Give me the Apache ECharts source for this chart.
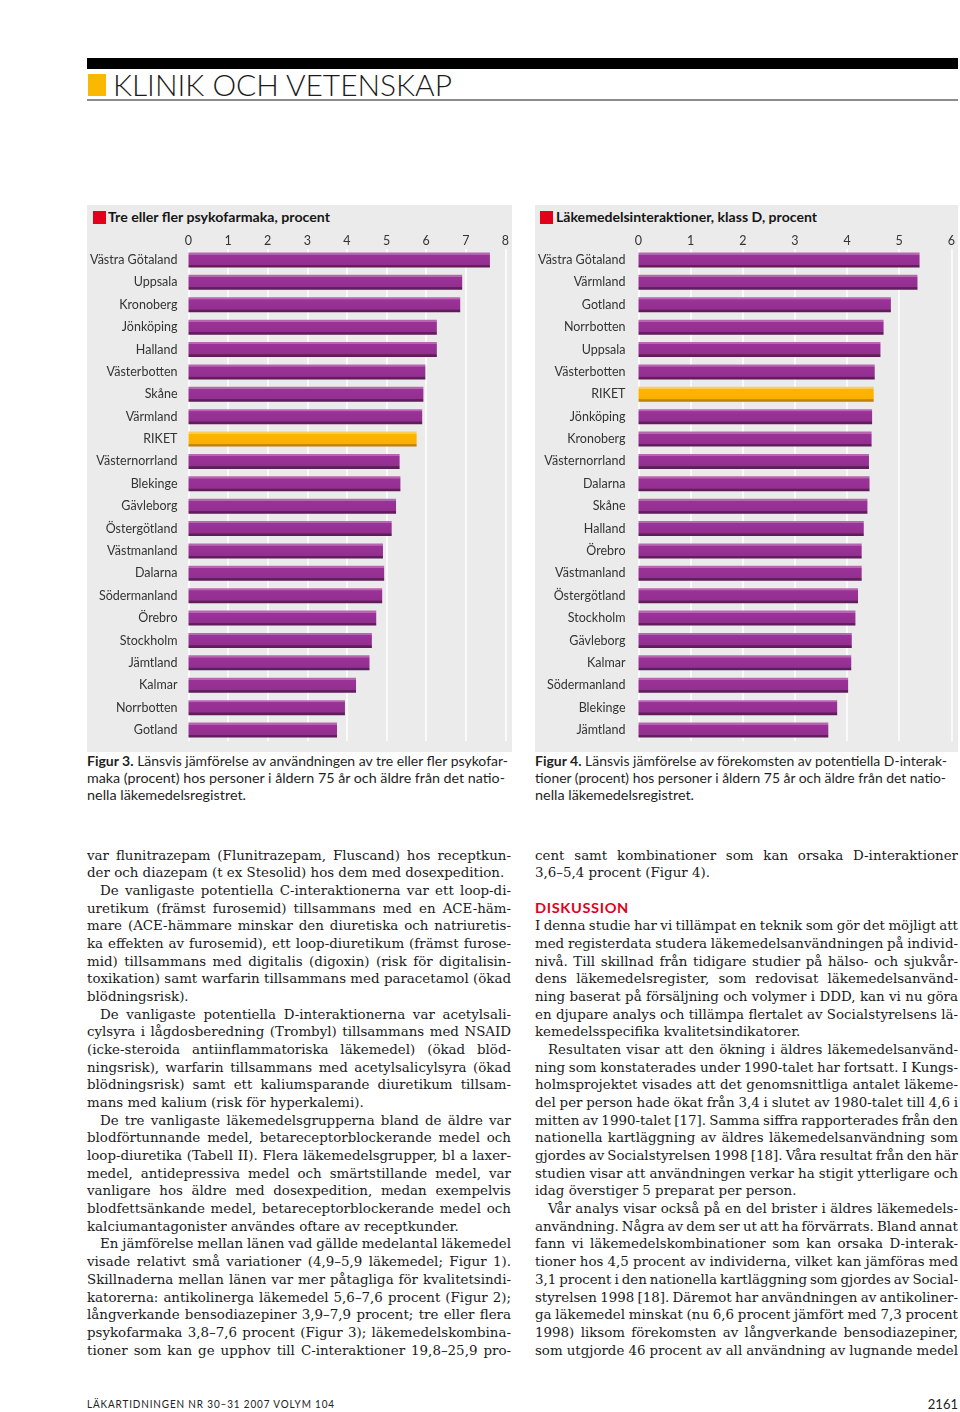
<!DOCTYPE html>
<html><head><meta charset="utf-8">
<script src="https://cdn.jsdelivr.net/npm/echarts@6/dist/echarts.min.js"></script>
<style>
html,body{margin:0;padding:0;background:#fff}
body{width:960px;height:1412px;position:relative;overflow:hidden;font-family:Lato,'Liberation Sans',sans-serif;color:#1a1a1a}
.a{position:absolute}
.panel{position:absolute;top:205px;height:547px;background:#ebebeb}
.sq{position:absolute;background:#e2001a}
.ttl{position:absolute;font:bold 14px/14px Lato,sans-serif;color:#151515;white-space:nowrap}
.cap{position:absolute;font:14px/16.8px Lato,sans-serif;color:#1f1f1f;white-space:nowrap}
.bl{position:absolute;font:13.4px/17.68px 'DejaVu Serif',serif;color:#1a1a1a;white-space:pre}
.fit{white-space:nowrap;transform-origin:0 0}
</style></head>
<body>
<!-- header -->
<div class="a" style="left:87px;top:58px;width:871px;height:11px;background:#000"></div>
<div class="a" style="left:88px;top:74px;width:18px;height:22px;background:#fbb800"></div>
<div class="a fit" data-w="339" style="left:113px;top:69px;font:300 30px/30px Lato,sans-serif;color:#1a1a1a">KLINIK OCH VETENSKAP</div>
<div class="a" style="left:87px;top:99px;width:871px;height:2px;background:#8c8c8c"></div>

<!-- chart panels -->
<div class="panel" style="left:87px;width:425px">
  <div class="sq" style="left:6px;top:6px;width:13px;height:13px"></div>
  <div class="ttl fit" data-w="222" style="left:21px;top:5px">Tre eller fler psykofarmaka, procent</div>
  <div id="c1" style="position:absolute;left:0;top:0;width:425px;height:547px"></div>
</div>
<div class="panel" style="left:535px;width:423px">
  <div class="sq" style="left:5px;top:6px;width:13px;height:13px"></div>
  <div class="ttl fit" data-w="261" style="left:21px;top:5px">Läkemedelsinteraktioner, klass D, procent</div>
  <div id="c2" style="position:absolute;left:0;top:0;width:423px;height:547px"></div>
</div>

<!-- captions -->
<div class="cap fit" data-w="421" style="left:87px;top:753px"><b>Figur 3.</b> Länsvis jämförelse av användningen av tre eller fler psykofar-</div>
<div class="cap fit" data-w="418" style="left:87px;top:769.8px">maka (procent) hos personer i åldern 75 år och äldre från det natio-</div>
<div class="cap fit" data-w="159" style="left:87px;top:786.6px">nella läkemedelsregistret.</div>
<div class="cap fit" data-w="412" style="left:535px;top:753px"><b>Figur 4.</b> Länsvis jämförelse av förekomsten av potentiella D-interak-</div>
<div class="cap fit" data-w="411" style="left:535px;top:769.8px">tioner (procent) hos personer i åldern 75 år och äldre från det natio-</div>
<div class="cap fit" data-w="159" style="left:535px;top:786.6px">nella läkemedelsregistret.</div>

<div id="body"></div>

<!-- footer -->
<div class="a fit" data-w="248" style="left:87px;top:1397px;font:11.5px/14px Lato,sans-serif;letter-spacing:1px;color:#222">LÄKARTIDNINGEN NR 30–31 2007 VOLYM 104</div>
<div class="a" style="right:2px;top:1396px;font:13px/16px Lato,sans-serif;color:#222">2161</div>

<script>
// ---------- chart data ----------
const regions3 = ['Västra Götaland','Uppsala','Kronoberg','Jönköping','Halland','Västerbotten','Skåne','Värmland','RIKET','Västernorrland','Blekinge','Gävleborg','Östergötland','Västmanland','Dalarna','Södermanland','Örebro','Stockholm','Jämtland','Kalmar','Norrbotten','Gotland'];
const values3 = [7.61,6.91,6.86,6.27,6.27,5.98,5.93,5.90,5.76,5.33,5.35,5.24,5.13,4.91,4.94,4.89,4.74,4.63,4.57,4.23,3.95,3.75];
const ticks3 = [0,1,2,3,4,5,6,7,8];

const regions4 = ['Västra Götaland','Värmland','Gotland','Norrbotten','Uppsala','Västerbotten','RIKET','Jönköping','Kronoberg','Västernorrland','Dalarna','Skåne','Halland','Örebro','Västmanland','Östergötland','Stockholm','Gävleborg','Kalmar','Södermanland','Blekinge','Jämtland'];
const values4 = [5.39,5.35,4.84,4.70,4.64,4.53,4.51,4.48,4.47,4.42,4.43,4.39,4.32,4.28,4.28,4.21,4.16,4.09,4.08,4.02,3.81,3.64];
const ticks4 = [0,1,2,3,4,5,6];

const highlight = 'RIKET';

// ---------- body text ----------
// "^" = paragraph indent, "$" = last line of paragraph (not justified), "#" = heading
const leftCol = [
"var flunitrazepam (Flunitrazepam, Fluscand) hos receptkun-",
"der och diazepam (t ex Stesolid) hos dem med dosexpedition.$",
"^De vanligaste potentiella C-interaktionerna var ett loop-di-",
"uretikum (främst furosemid) tillsammans med en ACE-häm-",
"mare (ACE-hämmare minskar den diuretiska och natriuretis-",
"ka effekten av furosemid), ett loop-diuretikum (främst furose-",
"mid) tillsammans med digitalis (digoxin) (risk för digitalisin-",
"toxikation) samt warfarin tillsammans med paracetamol (ökad",
"blödningsrisk).$",
"^De vanligaste potentiella D-interaktionerna var acetylsali-",
"cylsyra i lågdosberedning (Trombyl) tillsammans med NSAID",
"(icke-steroida antiinflammatoriska läkemedel) (ökad blöd-",
"ningsrisk), warfarin tillsammans med acetylsalicylsyra (ökad",
"blödningsrisk) samt ett kaliumsparande diuretikum tillsam-",
"mans med kalium (risk för hyperkalemi).$",
"^De tre vanligaste läkemedelsgrupperna bland de äldre var",
"blodförtunnande medel, betareceptorblockerande medel och",
"loop-diuretika (Tabell II). Flera läkemedelsgrupper, bl a laxer-",
"medel, antidepressiva medel och smärtstillande medel, var",
"vanligare hos äldre med dosexpedition, medan exempelvis",
"blodfettsänkande medel, betareceptorblockerande medel och",
"kalciumantagonister användes oftare av receptkunder.$",
"^En jämförelse mellan länen vad gällde medelantal läkemedel",
"visade relativt små variationer (4,9–5,9 läkemedel; Figur 1).",
"Skillnaderna mellan länen var mer påtagliga för kvalitetsindi-",
"katorerna: antikolinerga läkemedel 5,6–7,6 procent (Figur 2);",
"långverkande bensodiazepiner 3,9–7,9 procent; tre eller flera",
"psykofarmaka 3,8–7,6 procent (Figur 3); läkemedelskombina-",
"tioner som kan ge upphov till C-interaktioner 19,8–25,9 pro-"
];
const rightCol = [
"cent samt kombinationer som kan orsaka D-interaktioner",
"3,6–5,4 procent (Figur 4).$",
"",
"#DISKUSSION",
"I denna studie har vi tillämpat en teknik som gör det möjligt att",
"med registerdata studera läkemedelsanvändningen på individ-",
"nivå. Till skillnad från tidigare studier på hälso- och sjukvår-",
"dens läkemedelsregister, som redovisat läkemedelsanvänd-",
"ning baserat på försäljning och volymer i DDD, kan vi nu göra",
"en djupare analys och tillämpa flertalet av Socialstyrelsens lä-",
"kemedelsspecifika kvalitetsindikatorer.$",
"^Resultaten visar att den ökning i äldres läkemedelsanvänd-",
"ning som konstaterades under 1990-talet har fortsatt. I Kungs-",
"holmsprojektet visades att det genomsnittliga antalet läkeme-",
"del per person hade ökat från 3,4 i slutet av 1980-talet till 4,6 i",
"mitten av 1990-talet [17]. Samma siffra rapporterades från den",
"nationella kartläggning av äldres läkemedelsanvändning som",
"gjordes av Socialstyrelsen 1998 [18]. Våra resultat från den här",
"studien visar att användningen verkar ha stigit ytterligare och",
"idag överstiger 5 preparat per person.$",
"^Vår analys visar också på en del brister i äldres läkemedels-",
"användning. Några av dem ser ut att ha förvärrats. Bland annat",
"fann vi läkemedelskombinationer som kan orsaka D-interak-",
"tioner hos 4,5 procent av individerna, vilket kan jämföras med",
"3,1 procent i den nationella kartläggning som gjordes av Social-",
"styrelsen 1998 [18]. Däremot har användningen av antikoliner-",
"ga läkemedel minskat (nu 6,6 procent jämfört med 7,3 procent",
"1998) liksom förekomsten av långverkande bensodiazepiner,",
"som utgjorde 46 procent av all användning av lugnande medel"
];

function buildCol(lines, x, w){
  const body = document.getElementById('body');
  lines.forEach((raw, i) => {
    if (!raw) return;
    const top = 846.5 + i*17.68;
    const el = document.createElement('div');
    if (raw[0] === '#') {
      el.className = 'a fit';
      el.dataset.w = 94;
      el.style.cssText = `left:${x}px;top:${top+0.5}px;font:bold 13.5px/17.68px Lato,sans-serif;letter-spacing:0.6px;color:#e2001a`;
      el.textContent = raw.slice(1);
      body.appendChild(el);
      return;
    }
    let s = raw, indent = 0, justify = true;
    if (s[0] === '^') { indent = 13; s = s.slice(1); }
    if (s[s.length-1] === '$') { justify = false; s = s.slice(0,-1); }
    el.className = 'bl';
    el.style.left = (x+indent)+'px';
    el.style.top = top+'px';
    el.textContent = s;
    body.appendChild(el);
    const W = w - indent;
    const nat = el.getBoundingClientRect().width;
    const n = (s.match(/ /g)||[]).length;
    if (justify && n > 0) {
      let ws = (W - nat)/n;
      if (ws < -1.2) {
        ws = -1.2;
        const rest = W - nat - ws*n;
        el.style.letterSpacing = (rest/(s.length-1))+'px';
      }
      el.style.wordSpacing = ws+'px';
    } else if (nat > W) {
      el.style.letterSpacing = ((W-nat)/(s.length-1))+'px';
    }
  });
}
buildCol(leftCol, 87, 424);
buildCol(rightCol, 535, 423);

document.querySelectorAll('.fit').forEach(el => {
  const w = +el.dataset.w;
  if (!w) return;
  el.style.display = 'inline-block';
  const nat = el.getBoundingClientRect().width;
  el.style.transform = `scaleX(${w/nat})`;
});

// ---------- charts ----------
const purple = new echarts.graphic.LinearGradient(0,0,0,1,[
  {offset:0,color:'#b866b2'},{offset:0.13,color:'#b866b2'},
  {offset:0.16,color:'#9b3298'},{offset:0.80,color:'#932f90'},
  {offset:0.84,color:'#65205f'},{offset:1,color:'#5a1b57'}]);
const orange = new echarts.graphic.LinearGradient(0,0,0,1,[
  {offset:0,color:'#ffcb55'},{offset:0.13,color:'#ffcb55'},
  {offset:0.16,color:'#ffb400'},{offset:0.80,color:'#fbb000'},
  {offset:0.84,color:'#c98b0e'},{offset:1,color:'#b67c08'}]);

function makeChart(id, cats, vals, ticks, gridLeft, gridRight, labelMargin){
  const chart = echarts.init(document.getElementById(id), null, {renderer:'canvas'});
  chart.setOption({
    animation:false,
    grid:{left:gridLeft, right:gridRight, top:43.8, height:492.4, containLabel:false},
    xAxis:{type:'value', position:'top', min:ticks[0], max:ticks[ticks.length-1], interval:1,
      axisLine:{show:false}, axisTick:{show:false},
      axisLabel:{fontSize:12.5, color:'#333', margin:1, fontFamily:'Lato'},
      splitLine:{show:true, lineStyle:{color:'#ffffff', width:1.5}}},
    yAxis:{type:'category', data:cats, inverse:true,
      axisLine:{show:false}, axisTick:{show:false}, splitLine:{show:false},
      axisLabel:{fontSize:12.5, color:'#333', margin:labelMargin, fontFamily:'Lato'}},
    series:[{type:'bar', barWidth:15,
      data: vals.map((v,i)=>({value:v, itemStyle:{color: cats[i]===highlight ? orange : purple}}))}]
  });
}
makeChart('c1', regions3, values3, ticks3, 101, 6.5, 11);
makeChart('c2', regions4, values4, ticks4, 100, 5, 13);
</script>
</body></html>
